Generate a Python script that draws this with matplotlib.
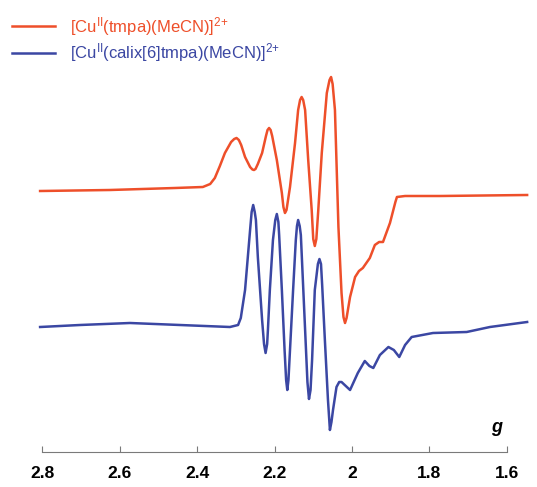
import matplotlib.pyplot as plt

plt.rcParams['font.family'] = ['Liberation Sans', 'DejaVu Sans']
plt.rcParams['mathtext.fontset'] = 'custom'
plt.rcParams['mathtext.rm'] = 'Liberation Sans'
plt.rcParams['mathtext.it'] = 'Liberation Sans:italic'
plt.rcParams['mathtext.bf'] = 'Liberation Sans:bold'

# EPR traces (g value, signal in a.u.)
g_tmpa = [2.805, 2.625, 2.457, 2.385, 2.366, 2.354, 2.341, 2.328, 2.312, 2.304,
          2.298, 2.292, 2.286, 2.276, 2.263, 2.257, 2.253, 2.249, 2.243, 2.232,
          2.222, 2.218, 2.214, 2.210, 2.206, 2.194, 2.181, 2.177, 2.173, 2.169,
          2.160, 2.147, 2.139, 2.134, 2.130, 2.126, 2.121, 2.113, 2.104, 2.100,
          2.096, 2.092, 2.087, 2.078, 2.065, 2.058, 2.054, 2.050, 2.044, 2.035,
          2.027, 2.022, 2.018, 2.014, 2.005, 1.992, 1.982, 1.972, 1.954, 1.941,
          1.930, 1.920, 1.902, 1.888, 1.884, 1.863, 1.773, 1.548]
s_tmpa = [261, 262, 264, 265, 268, 274, 286, 299, 310, 313,
          314, 312, 307, 295, 285, 282.5, 282, 283, 288, 299,
          316, 322, 324, 322, 316, 292, 259, 245, 239, 242,
          265, 309, 342, 352, 355, 352, 342, 292, 242, 213,
          206, 213, 242, 299, 359, 372, 375, 368, 342, 225,
          159, 135, 129, 134, 155, 175, 181, 184, 194, 207,
          210, 210, 229, 250, 255, 256, 256, 257]

g_calix = [2.805, 2.702, 2.573, 2.444, 2.315, 2.294, 2.287, 2.276, 2.263, 2.259,
           2.255, 2.251, 2.248, 2.243, 2.232, 2.227, 2.223, 2.219, 2.217, 2.212,
           2.204, 2.198, 2.194, 2.190, 2.188, 2.181, 2.174, 2.170, 2.167, 2.164,
           2.160, 2.152, 2.145, 2.142, 2.139, 2.135, 2.132, 2.121, 2.115, 2.111,
           2.107, 2.103, 2.096, 2.088, 2.084, 2.080, 2.077, 2.070, 2.062, 2.057,
           2.053, 2.049, 2.040, 2.033, 2.027, 2.016, 2.005, 1.985, 1.967, 1.955,
           1.945, 1.928, 1.906, 1.892, 1.878, 1.863, 1.846, 1.791, 1.704, 1.644,
           1.548]
s_calix = [125, 127, 129, 127, 125, 127, 134, 162, 222, 240,
           247, 240, 232, 195, 132, 108, 99, 108, 122, 162,
           212, 232, 238, 230, 217, 162, 102, 72, 62, 72,
           102, 162, 212, 226, 232, 226, 217, 122, 70, 53,
           62, 92, 162, 188, 193, 188, 167, 112, 52, 22,
           30, 42, 65, 70, 70, 66, 62, 79, 91, 86,
           84, 97, 105, 102, 95, 107, 115, 119, 120, 125,
           130]

g_ticks = [2.8, 2.6, 2.4, 2.2, 2.0, 1.8, 1.6]
g_ticklabels = ['2.8', '2.6', '2.4', '2.2', '2', '1.8', '1.6']

red = '#ee4f2a'
blue = '#3b47a3'

fig = plt.figure(figsize=(5.37, 4.87), dpi=100)
ax = fig.add_axes([30.4 / 537, 35 / 487, 503.7 / 537, 452 / 487])

ax.plot(g_tmpa, s_tmpa, color=red, lw=1.8,
        label=r'[Cu$^{\mathrm{II}}$(tmpa)(MeCN)]$^{2{+}}$')
ax.plot(g_calix, s_calix, color=blue, lw=1.8,
        label=r'[Cu$^{\mathrm{II}}$(calix[6]tmpa)(MeCN)]$^{2{+}}$')

ax.set_xlim(2.83, 1.53)
ax.set_ylim(0, 452)

for side in ['top', 'left', 'right']:
    ax.spines[side].set_visible(False)
ax.spines['bottom'].set_bounds(1.6, 2.8)
ax.spines['bottom'].set_color('#7a7a7a')
ax.set_yticks([])
ax.set_xticks(g_ticks)
ax.set_xticklabels(g_ticklabels, fontsize=12.5, fontweight='bold')
ax.tick_params(axis='x', direction='in', length=4, color='#7a7a7a', pad=10)

ax.text(1.626, 24, 'g', fontsize=13, fontweight='bold', fontstyle='italic',
        ha='center', va='center')

ax.legend(loc='upper left', bbox_to_anchor=(12 / 537, 1 - 15 / 487),
          bbox_transform=fig.transFigure, frameon=False, fontsize=12,
          handlelength=2.6, handletextpad=0.9, labelspacing=0.2,
          borderpad=0, borderaxespad=0, labelcolor='linecolor')

fig.savefig('out.png', dpi=100)
